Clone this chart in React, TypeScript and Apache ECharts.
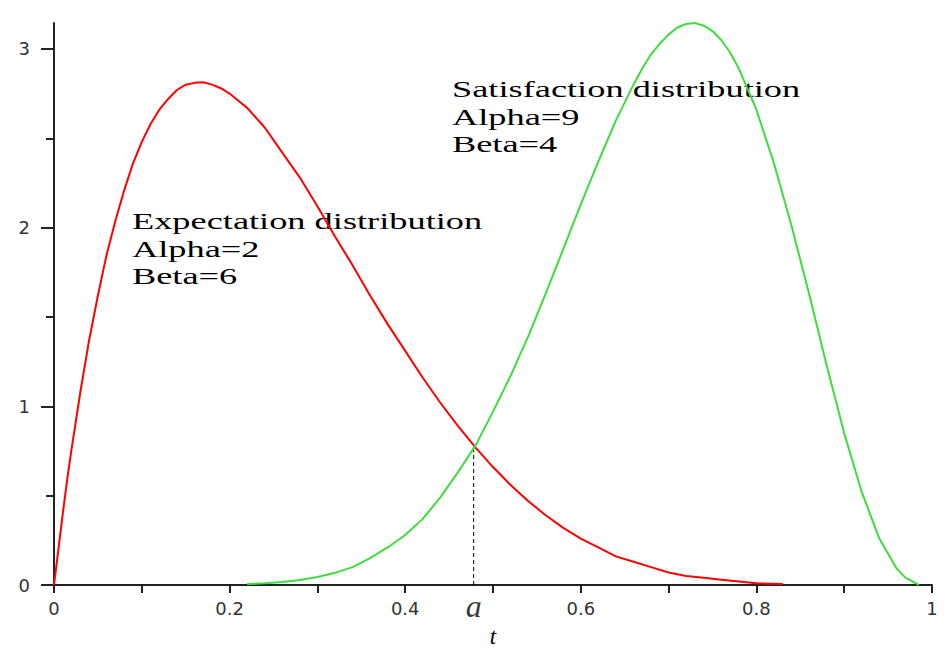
import React, { useEffect, useRef } from "react";
import * as echarts from "echarts";

// Expectation distribution (Beta alpha=2, beta=6)
const redX = [0, 0.005, 0.01, 0.015, 0.02, 0.03, 0.04, 0.05, 0.06, 0.07, 0.08, 0.09, 0.1, 0.11, 0.12, 0.13, 0.14, 0.15, 0.16, 0.17, 0.18, 0.19, 0.2, 0.21, 0.22, 0.24, 0.26, 0.28, 0.3, 0.32, 0.34, 0.36, 0.38, 0.4, 0.42, 0.44, 0.46, 0.48, 0.5, 0.52, 0.54, 0.56, 0.58, 0.6, 0.62, 0.64, 0.66, 0.68, 0.7, 0.72, 0.74, 0.76, 0.78, 0.8, 0.83];
const redY = [0, 0.2, 0.4, 0.59, 0.76, 1.08, 1.37, 1.62, 1.85, 2.04, 2.21, 2.36, 2.48, 2.58, 2.66, 2.72, 2.77, 2.8, 2.81, 2.813, 2.8, 2.78, 2.75, 2.71, 2.67, 2.56, 2.42, 2.28, 2.12, 1.95, 1.79, 1.62, 1.46, 1.31, 1.16, 1.02, 0.89, 0.77, 0.66, 0.56, 0.47, 0.39, 0.32, 0.26, 0.21, 0.16, 0.13, 0.1, 0.07, 0.05, 0.04, 0.03, 0.02, 0.01, 0.005];

// Satisfaction distribution (Beta alpha=9, beta=4)
const greenX = [0.22, 0.24, 0.26, 0.28, 0.3, 0.32, 0.34, 0.36, 0.38, 0.4, 0.42, 0.44, 0.46, 0.48, 0.5, 0.52, 0.54, 0.56, 0.58, 0.6, 0.62, 0.64, 0.66, 0.67, 0.68, 0.69, 0.7, 0.71, 0.72, 0.73, 0.74, 0.75, 0.76, 0.77, 0.78, 0.8, 0.82, 0.84, 0.86, 0.88, 0.9, 0.92, 0.94, 0.96, 0.97, 0.98, 0.985];
const greenY = [0.005, 0.01, 0.017, 0.028, 0.045, 0.068, 0.1, 0.15, 0.21, 0.28, 0.37, 0.49, 0.63, 0.78, 0.97, 1.17, 1.39, 1.63, 1.88, 2.13, 2.37, 2.6, 2.8, 2.89, 2.97, 3.03, 3.08, 3.12, 3.14, 3.145, 3.13, 3.1, 3.05, 2.98, 2.89, 2.66, 2.36, 2.01, 1.63, 1.23, 0.85, 0.52, 0.26, 0.09, 0.04, 0.015, 0];

// Crossing point "a"
const aX = 0.478;
const crossY = 0.78;

// Axis ticks / labels
const xTicks = [0, 0.1, 0.2, 0.3, 0.4, 0.5, 0.6, 0.7, 0.8, 0.9, 1];
const xLabels = [0, 0.2, 0.4, 0.6, 0.8, 1];
const yMajor = [0, 1, 2, 3];
const yMinor = [0.5, 1.5, 2.5];
const yMax = 3.145;

const expectationText = ["Expectation distribution", "Alpha=2", "Beta=6"];
const satisfactionText = ["Satisfaction distribution", "Alpha=9", "Beta=4"];

const zip = (xs: number[], ys: number[]) => xs.map((x, i) => [x, ys[i]]);

export default function App() {
  const ref = useRef<HTMLDivElement>(null);
  useEffect(() => {
    if (!ref.current) return;
    const chart = echarts.init(ref.current, null, { renderer: "svg" });
    const axisColor = "#222";
    const labelStyle = { fontFamily: "DejaVu Sans", fontSize: 18, color: "#333" };
    const annot = {
      font: '23px "Liberation Serif"',
      fill: "#000",
      lineHeight: 27.5,
    };
    chart.setOption({
      animation: false,
      backgroundColor: "#fff",
      grid: { left: 54, right: 13, top: 23, bottom: 68, outerBoundsMode: "none" },
      xAxis: {
        type: "value",
        min: 0,
        max: 1,
        name: "t",
        nameLocation: "middle",
        nameGap: 40,
        nameTextStyle: { fontFamily: "Liberation Serif", fontStyle: "italic", fontSize: 23, color: "#000" },
        axisLine: { show: true, onZero: false, lineStyle: { color: axisColor, width: 2 } },
        axisTick: { show: true, length: 8, lineStyle: { color: axisColor, width: 2 }, customValues: xTicks },
        axisLabel: { ...labelStyle, margin: 14, customValues: xLabels },
        splitLine: { show: false },
      },
      yAxis: [
        {
          type: "value",
          min: 0,
          max: yMax,
          axisLine: { show: true, onZero: false, lineStyle: { color: axisColor, width: 2 } },
          axisTick: { show: true, length: 13, lineStyle: { color: axisColor, width: 2 }, customValues: yMajor },
          axisLabel: { ...labelStyle, margin: 24, customValues: yMajor },
          splitLine: { show: false },
        },
        {
          type: "value",
          min: 0,
          max: yMax,
          position: "left",
          axisLine: { show: false },
          axisTick: { show: true, length: 8, lineStyle: { color: axisColor, width: 2 }, customValues: yMinor },
          axisLabel: { show: false },
          splitLine: { show: false },
        },
      ],
      series: [
        {
          name: "Expectation",
          type: "line",
          data: zip(redX, redY),
          showSymbol: false,
          lineStyle: { color: "#ff0000", width: 2 },
          itemStyle: { color: "#ff0000" },
          z: 3,
        },
        {
          name: "Satisfaction",
          type: "line",
          data: zip(greenX, greenY),
          showSymbol: false,
          lineStyle: { color: "#3fdc3f", width: 2 },
          itemStyle: { color: "#3fdc3f" },
          z: 3,
        },
        {
          name: "a-line",
          type: "line",
          data: [[aX, 0], [aX, crossY]],
          showSymbol: false,
          lineStyle: { color: "#000", width: 1, type: [4, 3] },
          z: 2,
        },
        {
          name: "a-label",
          type: "scatter",
          data: [[aX, 0]],
          symbolSize: 2,
          itemStyle: { color: "rgba(0,0,0,0)" },
          silent: true,
          label: {
            show: true,
            position: "bottom",
            distance: 4,
            formatter: "a",
            fontFamily: "Liberation Serif",
            fontStyle: "italic",
            fontSize: 32,
            color: "#000",
          },
          z: 4,
        },
      ],
      graphic: [
        {
          type: "text",
          x: 132,
          y: 208,
          scaleX: 1.58,
          style: { text: expectationText.join("\n"), ...annot },
        },
        {
          type: "text",
          x: 452,
          y: 76,
          scaleX: 1.58,
          style: { text: satisfactionText.join("\n"), ...annot },
        },
      ],
    });
    return () => chart.dispose();
  }, []);
  return (
    <div
      ref={ref}
      style={{ position: "fixed", left: 0, top: 0, width: 945, height: 653, background: "#fff" }}
    />
  );
}
